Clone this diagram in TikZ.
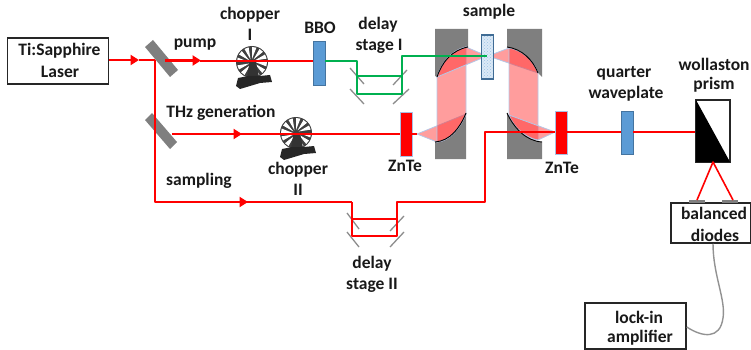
\documentclass[tikz,border=0pt]{standalone}
\usepackage{fontspec}
\setmainfont{Carlito}
\usetikzlibrary{arrows.meta,patterns,positioning}
\definecolor{beam}{HTML}{FF0000}
\definecolor{gbeam}{HTML}{00B050}
\definecolor{mgrey}{HTML}{7F7F7F}
\definecolor{wave}{HTML}{5B9BD5}
\definecolor{edgeb}{HTML}{A9BFE3}
\definecolor{thzedge}{HTML}{B4C7E7}
\tikzset{
  lbl/.style={font=\bfseries\fontsize{17.5}{20}\selectfont,text=black!90,inner sep=0pt,align=center},
  boxed/.style={draw=black!85,line width=1.5pt,fill=white,minimum width=0pt,inner sep=0pt},
  thick beam/.style={draw=beam,line width=2.2pt,line join=round},
  thin beam/.style={draw=beam,line width=1.6pt,line join=round},
  green beam/.style={draw=gbeam,line width=1.6pt,line join=round},
  flat mirror/.style={draw=mgrey!90,line width=1.3pt},
  splitter/.style={fill=mgrey,draw=none},
  plate/.style={fill=wave,draw=wave!75!black,line width=.5pt},
  redplate/.style={fill=red,draw=edgeb,line width=.6pt},
  block/.style={fill=mgrey,draw=none},
  thz/.style={fill=red!85!white,fill opacity=.45,draw=thzedge,draw opacity=1,line width=.8pt},
  curveedge/.style={draw=black,line width=.9pt},
  tip/.style={-{Triangle[length=8.5pt,width=10pt,fill=beam]}},
  chopwheel/.pic={
    \fill[black!75] (0,0) circle (16);
    \foreach \a in {0,30,...,330}{
      \fill[white] (\a:3) -- (\a:15) arc[start angle=\a,end angle=\a+17,radius=15] -- cycle;
    }
    \fill[black!80] (-2.5,0) -- (4,0) -- (7,15) -- (-5,15) -- cycle;
    \fill[black!85] (-14,16) -- (-4,14) -- (8,14) -- (18,13) -- (20,20) -- (8,21) -- (-12,27) -- (-16,24) -- cycle;
  }
}
\begin{document}
\begin{tikzpicture}[x=1pt,y=-1pt]
\useasboundingbox (0,0) rectangle (751,350);

% off-axis parabolic mirror blocks
\fill[block] (435,29) -- (468,29) -- (468,47) .. controls (452,50) and (442,62) .. (437,77) -- (435,76) -- cycle;
\fill[block] (466,113) .. controls (460,128) and (450,141) .. (435,142) -- (435,159) -- (466,159) -- cycle;
\fill[block] (507,29) -- (542,29) -- (542,77) -- (538,73) .. controls (533,60) and (522,49) .. (507,47) -- cycle;
\fill[block] (507,113) .. controls (514,128) and (526,141) .. (542,142) -- (542,159) -- (507,159) -- cycle;

% THz beam
\path[thz] (437,142) -- (417,134) -- (466,114) .. controls (460,128) and (450,141) .. (437,142) -- cycle;
\path[thz] (437,142) .. controls (450,141) and (460,128) .. (466,114) -- (466,47) .. controls (452,50) and (442,62) .. (437,77) -- cycle;
\path[thz] (437,77) .. controls (442,62) and (452,50) .. (466,47) -- (487,56) -- cycle;
\path[thz] (488,56) -- (509,48) .. controls (522,50) and (533,60) .. (538,73) -- cycle;
\path[thz] (509,48) .. controls (522,50) and (533,60) .. (538,73) -- (538,140) .. controls (526,138) and (514,128) .. (509,115) -- cycle;
\path[thz] (509,115) .. controls (514,128) and (526,138) .. (538,140) -- (555,132) -- cycle;
\draw[curveedge] (468,47) .. controls (452,50) and (442,62) .. (437,77);
\draw[curveedge] (466,113) .. controls (460,128) and (450,141) .. (435,142);
\draw[curveedge] (507,47) .. controls (522,49) and (533,60) .. (538,73);
\draw[curveedge] (507,113) .. controls (514,128) and (526,141) .. (542,142);

% choppers
\pic at (252,62) {chopwheel};
\pic at (296,133) {chopwheel};

% laser box and beam splitters
\node[boxed,minimum width=101pt,minimum height=46pt] (laser) at (58,61) {};
\node[lbl] at (59.5,50.5) {Ti:Sapphire};
\node[lbl] at (60,72) {Laser};
\fill[splitter] (145,47) -- (153,40) -- (178,70) -- (170,77) -- cycle;
\fill[splitter] (145,120) -- (152,113) -- (177,142) -- (170,149) -- cycle;

% delay mirrors
\draw[flat mirror] (350,68) -- (364,84);
\draw[flat mirror] (350,89) -- (364,104);
\draw[flat mirror] (407,70) -- (393,85);
\draw[flat mirror] (409,89) -- (393,104);
\draw[flat mirror] (347,213) -- (359,229);
\draw[flat mirror] (347,232) -- (359,247);
\draw[flat mirror] (404,216) -- (390,231);
\draw[flat mirror] (404,232) -- (390,247);

% optics
\node[plate,minimum width=12pt,minimum height=44pt,inner sep=0pt] (bbo) at (319,63) {};
\node[redplate,minimum width=12pt,minimum height=44pt,inner sep=0pt] (znte1) at (406,134) {};
\node[draw=wave!70!black,line width=1.1pt,preaction={fill=wave!22},pattern=crosshatch dots,pattern color=wave!60,minimum width=12.5pt,minimum height=44pt,inner sep=0pt] (sample) at (487.5,57) {};
\node[redplate,minimum width=12pt,minimum height=43pt,inner sep=0pt] (znte2) at (561,132.5) {};
\node[plate,minimum width=12pt,minimum height=43pt,inner sep=0pt] (qwp) at (627,132.5) {};
\node[boxed,minimum width=34pt,minimum height=62pt] (prism) at (713,131) {};
\fill[black] (696,100) -- (730,162) -- (696,162) -- cycle;

% coordinates for the beam paths
\coordinate (split1) at (155,60);
\coordinate (split2) at (155,134);
\coordinate (corner) at (155,202);

% red beams
\draw[thick beam,tip] (laser.east |- split1) -- (139,60);
\draw[thick beam] (139,60) -- (split1);
\draw[thick beam] (split1) -- (corner) -- (352,202);
\draw[thick beam,tip] (corner) -- (248,202);
\draw[thick beam,tip] (165,60.5) -- (201,60.5);
\draw[thin beam] (200,61) -- (bbo.west |- 0,61);
\draw[thick beam,tip] (172,134) -- (242,134);
\draw[thin beam] (240,134) -- (znte1.west |- 0,134);
\draw[thin beam] (znte1.east |- 0,134) -- (417,134);
\draw[thick beam] (352,202) -- (352,236) -- (397,236) -- (397,202) -- (485,202) -- (485,132) -- (znte2.west |- 0,132);
\draw[thick beam] (352,219) -- (397,219);
\draw[thin beam] (znte2.east |- 0,132) -- (qwp.west |- 0,132);
\draw[thin beam] (qwp.east |- 0,132) -- (prism.west |- 0,132);

% green beam
\draw[green beam] (bbo.east |- 0,61) -- (357,61) -- (357,94) -- (402,94) -- (402,56) -- (487,56);
\draw[green beam] (357,76) -- (402,76);

% detection
\node[boxed,minimum width=80pt,minimum height=40pt] (diodes) at (711,223) {};
\node[boxed,minimum width=101pt,minimum height=46pt] (lockin) at (635.5,326) {};
\fill[mgrey] (689,199.5) rectangle (705,203);
\fill[mgrey] (722,199.5) rectangle (738,203);
\coordinate (pd1) at (697,200);
\coordinate (pd2) at (733,200);
\coordinate (pfoot) at (713,162);
\draw[thin beam] (pd1) -- (pfoot) -- (pd2);
\draw[mgrey!85,line width=1.4pt] (diodes.south -| 713,0) .. controls (713,275) and (726,300) .. (723,318) .. controls (720,340) and (702,337) .. (lockin.east |- 0,327);

% labels
\node[lbl] at (250,15) {chopper};
\node[lbl] at (250,35) {I};
\node[lbl] at (195,45) {pump};
\node[lbl] at (221,113) {THz generation};
\node[lbl] at (199,181) {sampling};
\node[lbl] at (298,170) {chopper};
\node[lbl] at (298,190) {II};
\node[lbl] at (320,28) {BBO};
\node[lbl] at (378,25) {delay};
\node[lbl] at (379,46) {stage I};
\node[lbl] at (489,12) {sample};
\node[lbl] at (405,166) {ZnTe};
\node[lbl] at (562,168) {ZnTe};
\node[lbl] at (372,264) {delay};
\node[lbl] at (372,285) {stage II};
\node[lbl] at (624,73) {quarter};
\node[lbl] at (626,94) {waveplate};
\node[lbl] at (714,64) {wollaston};
\node[lbl] at (714,85) {prism};
\node[lbl] at (714,213) {balanced};
\node[lbl] at (715,235) {diodes};
\node[lbl] at (639,317) {lock-in};
\node[lbl] at (640,338) {amplifier};
\end{tikzpicture}
\end{document}
